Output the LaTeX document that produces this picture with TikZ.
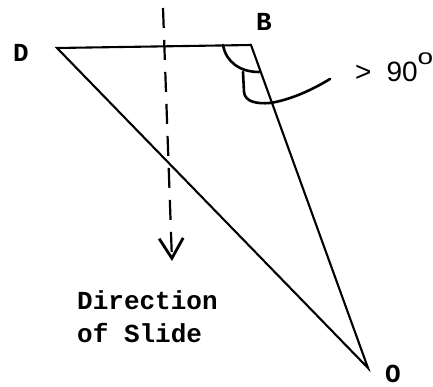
\documentclass[tikz,border=0pt]{standalone}
\usepackage{fontspec}
\setmainfont{Liberation Serif}
\newfontfamily\monofont{Liberation Mono}
\newfontfamily\labsans{Liberation Sans}
\usetikzlibrary{arrows.meta}
\begin{document}
\begin{tikzpicture}[x=1pt,y=-1pt,
  edge/.style={line width=2.1pt,line join=miter},
  anglemark/.style={line width=2.6pt,line cap=round},
  lab/.style={font=\monofont\bfseries\fontsize{26}{26}\selectfont,inner sep=0pt},
  sanslab/.style={font=\labsans\fontsize{28}{28}\selectfont,inner sep=0pt},
  slide/.style={line width=2.2pt,dash pattern=on 20pt off 12pt,
    -{Straight Barb[length=20pt,width=24pt,line width=2.8pt]}}]
\useasboundingbox (0,0) rectangle (433,387);
\coordinate (D) at (57,48);
\coordinate (B) at (251,45);
\coordinate (O) at (368,368);
\draw[edge] (D) -- (B) -- (O) -- cycle;
\node[lab] (Dl) at (21,53) {D};
\node[lab] (Bl) at (264,22) {B};
\node[lab] (Ol) at (393,374) {O};
% angle marks
\coordinate (a1) at (223,45);
\coordinate (a2) at (259,72);
\draw[anglemark] (a1) .. controls (226,62) and (240,72) .. (a2);
\coordinate (c1) at (243,72);
\coordinate (c2) at (330,79);
\draw[anglemark] (c1) -- (244,92) .. controls (245,102) and (257,104) .. (270,103)
  .. controls (290,100) and (312,90) .. (c2);
\node[sanslab,anchor=base west] (gt) at (355,82) {>\hspace{15pt}90\raisebox{17pt}{\scalebox{1}[0.78]{\fontsize{28}{28}\selectfont o}}};
% direction of slide
\coordinate (s1) at (163,8);
\coordinate (s2) at (172,261);
\draw[slide] (s1) -- (s2);
\node[lab,align=left,anchor=north west,font=\monofont\bfseries\fontsize{26}{33}\selectfont] (dir) at (77,290) {Direction\\of Slide};
\end{tikzpicture}
\end{document}
